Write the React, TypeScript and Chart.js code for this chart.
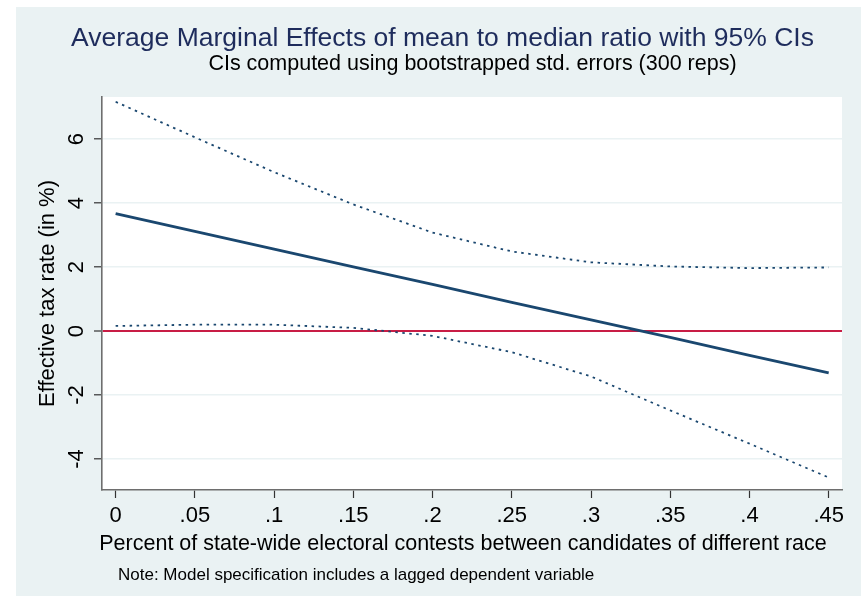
import React, { useEffect, useRef } from "react";
import { Chart, registerables } from "chart.js";

Chart.register(...registerables);

// ---- data ----
const xValues = [0, 0.05, 0.1, 0.15, 0.2, 0.25, 0.3, 0.35, 0.4, 0.45];
const marginalEffect = [3.67, 3.12, 2.56, 2.01, 1.46, 0.9, 0.35, -0.2, -0.76, -1.31];
const upperCI = [7.17, 6.06, 4.97, 3.96, 3.08, 2.49, 2.15, 2.02, 1.97, 1.99];
const lowerCI = [0.16, 0.2, 0.2, 0.1, -0.15, -0.66, -1.42, -2.48, -3.52, -4.58];

const xTickValues = [0, 0.05, 0.1, 0.15, 0.2, 0.25, 0.3, 0.35, 0.4, 0.45];
const xTickLabels = ["0", ".05", ".1", ".15", ".2", ".25", ".3", ".35", ".4", ".45"];
const yTickValues = [-4, -2, 0, 2, 4, 6];
const yTickLabels = ["-4", "-2", "0", "2", "4", "6"];

const TITLE = "Average Marginal Effects of mean to median ratio with 95% CIs";
const SUBTITLE = "CIs computed using bootstrapped std. errors (300 reps)";
const X_TITLE = "Percent of state-wide electoral contests between candidates of different race";
const Y_TITLE = "Effective tax rate (in %)";
const NOTE = "Note: Model specification includes a lagged dependent variable";

const FONT = '"Liberation Sans", Arial, Helvetica, sans-serif';
const NAVY = "#1A476F";
const BG = "#EAF2F3";
const RED = "#C81D45";

const stataPlugin = {
  id: "stataDecor",
  beforeDraw(chart: any) {
    const { ctx, width, height, chartArea } = chart;
    ctx.save();
    ctx.fillStyle = "#ffffff";
    ctx.fillRect(0, 0, width, height);
    ctx.fillStyle = BG;
    ctx.fillRect(16, 7, width - 16, height - 7);
    ctx.fillStyle = "#ffffff";
    ctx.fillRect(chartArea.left, chartArea.top, chartArea.right - chartArea.left, chartArea.bottom - chartArea.top);
    ctx.restore();
  },
  afterDraw(chart: any) {
    const { ctx, chartArea } = chart;
    ctx.save();
    ctx.textBaseline = "alphabetic";
    ctx.textAlign = "center";
    ctx.fillStyle = "#1E2C5C";
    ctx.font = `26.5px ${FONT}`;
    ctx.fillText(TITLE, 442.5, 46);
    ctx.fillStyle = "#000000";
    ctx.font = `21.5px ${FONT}`;
    ctx.fillText(SUBTITLE, 472.5, 70);
    ctx.font = `21.5px ${FONT}`;
    ctx.fillText(X_TITLE, 463, 550);
    ctx.textAlign = "left";
    ctx.font = `17px ${FONT}`;
    ctx.fillText(NOTE, 118, 580);
    // y title (rotated)
    ctx.translate(54, (chartArea.top + chartArea.bottom) / 2);
    ctx.rotate(-Math.PI / 2);
    ctx.textAlign = "center";
    ctx.font = `22px ${FONT}`;
    ctx.fillText(Y_TITLE, 0, 0);
    ctx.restore();
  },
};

export default function App() {
  const canvasRef = useRef<HTMLCanvasElement>(null);

  useEffect(() => {
    document.body.style.margin = "0";
    const canvas = canvasRef.current;
    if (!canvas) return;

    const toPoints = (ys: number[]) => xValues.map((x, i) => ({ x, y: ys[i] }));

    const chart = new Chart(canvas, {
      type: "line",
      data: {
        datasets: [
          {
            label: "Upper 95% CI",
            data: toPoints(upperCI),
            borderColor: NAVY,
            borderWidth: 1.8,
            borderDash: [2.5, 4.5],
            pointRadius: 0,
            fill: false,
            tension: 0,
          },
          {
            label: "Lower 95% CI",
            data: toPoints(lowerCI),
            borderColor: NAVY,
            borderWidth: 1.8,
            borderDash: [2.5, 4.5],
            pointRadius: 0,
            fill: false,
            tension: 0,
          },
          {
            label: "Average marginal effect",
            data: toPoints(marginalEffect),
            borderColor: NAVY,
            borderWidth: 2.8,
            pointRadius: 0,
            fill: false,
            tension: 0,
          },
        ],
      },
      options: {
        animation: false,
        responsive: false,
        devicePixelRatio: 1,
        layout: { padding: { top: 97, left: 0, right: 19, bottom: 0 } },
        plugins: {
          legend: { display: false },
          title: { display: false },
          tooltip: { enabled: false },
        },
        scales: {
          x: {
            type: "linear",
            min: -0.0086,
            max: 0.4584,
            afterFit: (s: any) => {
              s.height = 106;
            },
            afterBuildTicks: (s: any) => {
              s.ticks = xTickValues.map((v) => ({ value: v }));
            },
            ticks: {
              autoSkip: false,
              maxRotation: 0,
              minRotation: 0,
              padding: 5,
              color: "#000000",
              font: { family: FONT, size: 22 },
              callback: (v: any) => {
                const i = xTickValues.findIndex((t) => Math.abs(t - Number(v)) < 1e-9);
                return i >= 0 ? xTickLabels[i] : "";
              },
            },
            grid: {
              drawOnChartArea: false,
              drawTicks: true,
              tickLength: 8,
              tickColor: "#333333",
              tickWidth: 1.2,
            },
            border: { display: true, color: "#6E6E6E", width: 1.6 },
          },
          y: {
            type: "linear",
            min: -4.97,
            max: 7.32,
            afterFit: (s: any) => {
              s.width = 102;
            },
            afterBuildTicks: (s: any) => {
              s.ticks = yTickValues.map((v) => ({ value: v }));
            },
            ticks: {
              autoSkip: false,
              minRotation: 90,
              maxRotation: 90,
              crossAlign: "center",
              padding: 7,
              color: "#000000",
              font: { family: FONT, size: 22 },
              callback: (v: any) => {
                const i = yTickValues.findIndex((t) => Math.abs(t - Number(v)) < 1e-9);
                return i >= 0 ? yTickLabels[i] : "";
              },
            },
            grid: {
              drawOnChartArea: true,
              drawTicks: true,
              tickLength: 8,
              tickColor: "#333333",
              tickWidth: 1.2,
              color: (c: any) => (c.tick && c.tick.value === 0 ? RED : BG),
              lineWidth: (c: any) => (c.tick && c.tick.value === 0 ? 2 : 1.6),
            },
            border: { display: true, color: "#6E6E6E", width: 1.6 },
          },
        },
      },
      plugins: [stataPlugin],
    } as any);

    return () => {
      chart.destroy();
    };
  }, []);

  return (
    <div style={{ width: 861, height: 596 }}>
      <canvas ref={canvasRef} width={861} height={596} style={{ display: "block", width: 861, height: 596 }} />
    </div>
  );
}
